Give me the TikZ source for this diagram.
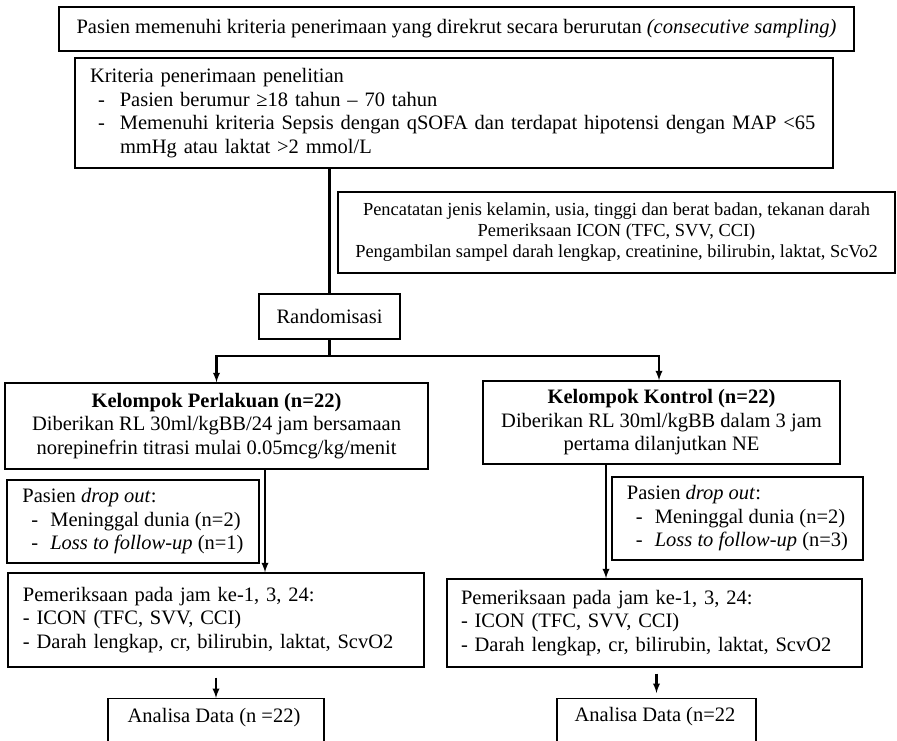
\documentclass[tikz,border=0pt]{standalone}
\usepackage{fontspec}
\setmainfont{Liberation Serif}
\usetikzlibrary{arrows}

\newcommand{\itm}{\hspace*{8pt}-\hspace*{15pt}}
\newcommand{\dropitm}{\hspace*{9pt}-\hspace*{12pt}}

\begin{document}
\begin{tikzpicture}[x=1pt,y=-1pt,>=latex,
	every node/.style={font=\fontsize{20.5}{23.5}\selectfont,inner sep=0pt},
	box/.style={draw,line width=1.4pt,inner xsep=15pt},
	dropbox/.style={draw,line width=2.6pt},
	link/.style={line width=2.2pt}]
	\useasboundingbox (0,0) rectangle (897,741);
	\clip (0,0) rectangle (897,741);
	\node[box,minimum width=795,minimum height=44] (masuk) at (456.5,29) {Pasien memenuhi kriteria penerimaan yang direkrut secara berurutan \textit{(consecutive sampling)}};
	\node[box,minimum width=758,minimum height=110,text width=728,align=left] (kriteria) at (454,113) {Kriteria penerimaan penelitian\\
		\itm Pasien berumur ≥18 tahun – 70 tahun\\
		\itm Memenuhi kriteria Sepsis dengan qSOFA dan terdapat hipotensi dengan MAP <65\\
		\hspace*{30pt}mmHg atau laktat >2 mmol/L};
	\node[box,minimum width=557,minimum height=81,align=center,font=\fontsize{18.4}{21}\selectfont] (catat) at (616.5,232.5) {Pencatatan jenis kelamin, usia, tinggi dan berat badan, tekanan darah\\
		Pemeriksaan ICON (TFC, SVV, CCI)\\
		Pengambilan sampel darah lengkap, creatinine, bilirubin, laktat, ScVo2};
	\node[box,minimum width=141,minimum height=45] (acak) at (329.5,316.5) {Randomisasi};
	\node[box,minimum width=423,minimum height=86,align=center] (perlakuan) at (216.5,426) {\textbf{Kelompok Perlakuan (n=22)}\\
		Diberikan RL 30ml/kgBB/24 jam bersamaan\\
		norepinefrin titrasi mulai 0.05mcg/kg/menit};
	\node[box,minimum width=357,minimum height=83,align=center] (kontrol) at (661.5,422.5) {\textbf{Kelompok Kontrol (n=22)}\\
		Diberikan RL 30ml/kgBB dalam 3 jam\\
		pertama dilanjutkan NE};
	\node[dropbox,minimum width=252,minimum height=83,align=left] (drop1) at (133,521.5) {Pasien \textit{drop out}:\\
		\dropitm Meninggal dunia (n=2)\\
		\dropitm\textit{Loss to follow-up} (n=1)};
	\node[dropbox,minimum width=251,minimum height=83,align=left] (drop2) at (737.5,518.5) {Pasien \textit{drop out}:\\
		\dropitm Meninggal dunia (n=2)\\
		\dropitm\textit{Loss to follow-up} (n=3)};
	\node[box,minimum width=416,minimum height=94,text width=386,align=left] (periksa1) at (216,620) {Pemeriksaan pada jam ke-1, 3, 24:\\
		- ICON (TFC, SVV, CCI)\\
		- Darah lengkap, cr, bilirubin, laktat, ScvO2};
	\node[box,minimum width=415,minimum height=88,text width=387,inner xsep=14pt,align=left] (periksa2) at (654.5,623) {Pemeriksaan pada jam ke-1, 3, 24:\\
		- ICON (TFC, SVV, CCI)\\
		- Darah lengkap, cr, bilirubin, laktat, ScvO2};
	\node[box,minimum width=216,minimum height=60,anchor=north] (analisa1) at (216,698) {};
	\node at (214,718) {Analisa Data (n =22)};
	\node[box,minimum width=199,minimum height=60,anchor=north] (analisa2) at (656.5,698) {};
	\node at (655,717) {Analisa Data (n=22};
	\draw[link] (kriteria.south -| acak.north) -- (acak.north);
	\draw[link,->] (acak.south) -- ++(0,16) -| (perlakuan.north);
	\draw[link,->] (acak.south) -- ++(0,16) -| ([xshift=-2.5]kontrol.north);
	\draw[link,->] ([xshift=48.5]perlakuan.south) -- ([xshift=48.5]perlakuan.south |- periksa1.north);
	\draw[link,->] ([xshift=-55.5]kontrol.south) -- ([xshift=-55.5]kontrol.south |- periksa2.north);
	\draw[link,->,shorten <=10pt] (periksa1.south) -- (analisa1.north);
	\draw[link,->,shorten <=6pt,shorten >=5pt] (periksa2.south -| analisa2.north) -- (analisa2.north);
\end{tikzpicture}
\end{document}
